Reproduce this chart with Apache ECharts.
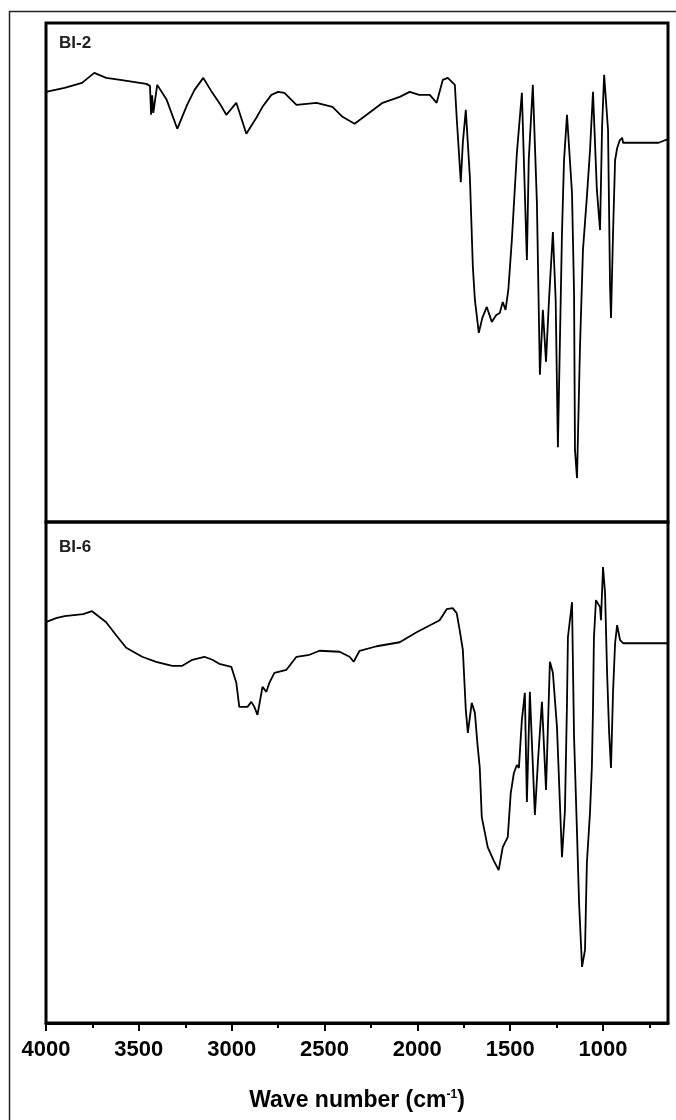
<!DOCTYPE html>
<html>
<head>
<meta charset="utf-8">
<script src="https://cdn.jsdelivr.net/npm/echarts@6/dist/echarts.min.js"></script>
<style>
html,body{margin:0;padding:0;background:#fff;}
#chart{width:676px;height:1120px;}
</style>
</head>
<body>
<div id="chart"></div>
<script>
// ---- Data (wavenumber in cm^-1, transmittance in arbitrary %T units) ----
const panelLabels = ['BI-2', 'BI-6'];
const majorTicks = [4000, 3500, 3000, 2500, 2000, 1500, 1000];
const minorTicks = [3750, 3250, 2750, 2250, 1750, 1250, 750];
const xTitle = 'Wave number (cm{sup|-1})';

const wnTop = [4000,3900,3806,3740,3676,3600,3460,3440,3434,3428,3422,3401,3350,3293,3240,3200,3153,3104,3060,3029,2975,2921,2867,2834,2786,2750,2716,2651,2543,2457,2403,2338,2273,2187,2095,2041,1990,1933,1896,1863,1836,1798,1788,1766,1755,1739,1717,1701,1690,1669,1650,1626,1599,1575,1556,1540,1525,1510,1491,1464,1437,1421,1410,1400,1378,1356,1340,1324,1307,1291,1270,1255,1243,1221,1210,1194,1167,1156,1151,1140,1124,1108,1087,1070,1054,1033,1016,1005,994,973,962,957,946,935,924,910,897,892,800,700,660,650];
const tTop  = [86.2,87.0,88.0,90.0,89.0,88.6,87.8,87.4,81.6,85.5,82.0,87.6,84.6,78.8,83.6,86.6,89.0,86.0,83.6,81.6,84.0,77.8,81.0,83.2,85.6,86.2,86.0,83.6,84.0,83.2,81.2,79.8,81.6,84.0,85.2,86.2,85.6,85.6,84.0,88.6,89.0,87.6,81.0,68.1,76.0,82.6,69.1,51.1,44.5,37.9,40.9,43.1,40.1,41.5,41.9,44.1,42.5,46.5,56.5,73.9,86.0,65.9,52.5,72.5,87.6,63.9,29.5,42.5,32.1,44.5,58.1,44.5,15.0,57.9,72.5,81.6,65.9,45.9,14.4,8.8,35.1,54.5,65.1,74.5,86.2,66.5,58.5,79.2,89.6,78.6,47.1,40.9,57.9,72.5,74.9,76.5,77.0,76.0,76.0,76.0,76.6,76.6];

const wnBottom = [4000,3946,3900,3850,3800,3752,3676,3622,3568,3482,3407,3320,3266,3212,3147,3104,3067,3002,2975,2959,2915,2894,2878,2861,2834,2813,2797,2770,2705,2651,2581,2527,2419,2365,2343,2311,2219,2095,2004,1880,1842,1810,1788,1772,1755,1739,1728,1707,1690,1675,1664,1653,1621,1590,1562,1540,1513,1497,1480,1464,1453,1437,1421,1410,1394,1367,1350,1329,1307,1286,1270,1248,1221,1205,1194,1189,1167,1156,1140,1129,1113,1097,1087,1070,1060,1054,1049,1038,1016,1011,1000,989,978,967,957,946,935,924,908,892,800,650];
const tBottom  = [80.0,80.8,81.2,81.4,81.6,82.2,80.0,77.4,74.9,73.1,72.1,71.3,71.3,72.5,73.1,72.5,71.7,71.1,67.9,63.1,63.1,64.1,63.1,61.5,67.1,66.1,67.9,69.9,70.5,73.1,73.5,74.3,74.1,73.1,72.1,74.3,75.2,76.0,78.0,80.4,82.6,82.8,81.8,78.4,74.5,62.5,57.9,63.9,61.9,55.1,51.1,41.1,35.1,32.5,30.5,35.1,37.1,45.9,49.9,51.5,50.9,60.5,65.9,44.1,66.1,41.5,52.5,64.1,46.5,72.1,69.9,59.1,33.1,42.5,63.9,77.0,84.0,57.1,37.9,24.0,11.2,14.6,31.9,42.1,51.1,62.5,76.8,84.4,83.0,80.4,91.0,85.8,69.9,57.9,50.9,66.1,75.8,79.4,76.4,75.8,75.8,75.8];

// ---- Chart ----
const FONT = "'Liberation Sans', Arial, sans-serif";
const pairs = (xs, ys) => xs.map((x, i) => [x, ys[i]]);

const chart = echarts.init(document.getElementById('chart'), null, {renderer: 'canvas'});

const baseX = {
  type: 'value', min: 650, max: 4000, inverse: true,
  splitLine: {show: false}, axisLine: {show: false},
  axisTick: {show: false}, axisLabel: {show: false}
};
const baseY = {type: 'value', min: 0, max: 100, show: false};

chart.setOption({
  animation: false,
  backgroundColor: '#fff',
  grid: [
    {left: 46, top: 23, width: 622, height: 499, show: true, borderColor: '#000', borderWidth: 3, backgroundColor: 'transparent'},
    {left: 46, top: 522, width: 622, height: 501, show: true, borderColor: '#000', borderWidth: 3, backgroundColor: 'transparent'}
  ],
  xAxis: [
    Object.assign({}, baseX, {gridIndex: 0}),
    Object.assign({}, baseX, {
      gridIndex: 1, position: 'bottom',
      axisLine: {show: true, lineStyle: {color: '#000', width: 3}},
      axisTick: {show: true, inside: false, length: 8, lineStyle: {color: '#000', width: 2}, customValues: majorTicks},
      axisLabel: {show: true, customValues: majorTicks, margin: 16, color: '#000',
        fontFamily: FONT, fontWeight: 'bold', fontSize: 22, formatter: v => String(v)},
      name: xTitle, nameLocation: 'middle', nameGap: 66,
      nameTextStyle: {color: '#000', fontFamily: FONT, fontWeight: 'bold', fontSize: 23,
        rich: {sup: {fontSize: 12, fontWeight: 'bold', fontFamily: FONT, color: '#000', verticalAlign: 'top', padding: [0, 0, 10, 0]}}}
    }),
    Object.assign({}, baseX, {
      gridIndex: 1, position: 'bottom',
      axisTick: {show: true, inside: false, length: 5, lineStyle: {color: '#000', width: 2}, customValues: minorTicks}
    })
  ],
  yAxis: [
    Object.assign({}, baseY, {gridIndex: 0}),
    Object.assign({}, baseY, {gridIndex: 1})
  ],
  series: [
    {name: panelLabels[0], type: 'line', xAxisIndex: 0, yAxisIndex: 0, data: pairs(wnTop, tTop),
      showSymbol: false, smooth: false, lineStyle: {color: '#000', width: 1.8}},
    {name: panelLabels[1], type: 'line', xAxisIndex: 1, yAxisIndex: 1, data: pairs(wnBottom, tBottom),
      showSymbol: false, smooth: false, lineStyle: {color: '#000', width: 1.8}}
  ],
  graphic: [
    {type: 'rect', silent: true, shape: {x: 9.5, y: 11.5, width: 720, height: 1200},
      style: {fill: 'none', stroke: '#222', lineWidth: 1.5}},
    {type: 'text', left: 59, top: 35, silent: true,
      style: {text: panelLabels[0], fill: '#222', font: 'bold 17px ' + FONT}},
    {type: 'text', left: 59, top: 539, silent: true,
      style: {text: panelLabels[1], fill: '#222', font: 'bold 17px ' + FONT}}
  ]
});
</script>
</body>
</html>
